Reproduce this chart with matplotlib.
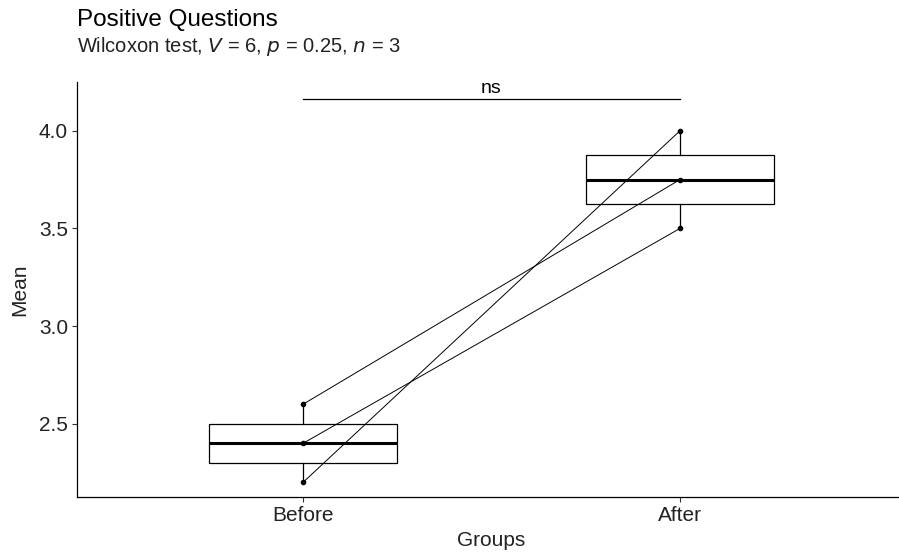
import matplotlib
matplotlib.use("Agg")
import matplotlib.pyplot as plt

plt.rcParams['font.family'] = ['Liberation Sans', 'DejaVu Sans']

# --- Data ---
groups = ["Before", "After"]
before = [2.6, 2.4, 2.2]
after = [3.75, 3.5, 4.0]   # paired with 'before' in the same order
yticks = [2.5, 3.0, 3.5, 4.0]
bracket_y = 4.165
bracket_label = "ns"

# --- Figure ---
fig = plt.figure(figsize=(8.99, 5.57), dpi=100)
W, H = 899, 557
ax = fig.add_axes([77 / W, 1 - 497 / H, (906 - 77) / W, (497 - 82) / H])

pos = [1, 2]
ax.boxplot([before, after], positions=pos, widths=0.5, whis=(0, 100),
           showcaps=False, showfliers=False, patch_artist=True,
           boxprops=dict(facecolor="white", edgecolor="black", linewidth=0.9),
           whiskerprops=dict(color="black", linewidth=0.9),
           medianprops=dict(color="black", linewidth=2.2),
           zorder=1)

# paired lines
for b, a in zip(before, after):
    ax.plot(pos, [b, a], color="black", linewidth=0.7, zorder=3)
ax.scatter([1] * len(before), before, s=9, color="black", zorder=4)
ax.scatter([2] * len(after), after, s=9, color="black", zorder=4)

# significance bracket
ax.plot(pos, [bracket_y, bracket_y], color="black", linewidth=0.9)
ax.text(1.5, bracket_y + 0.01, bracket_label, ha="center", va="bottom", fontsize=14)

ax.set_xlim(0.4, 2.6)
ax.set_ylim(2.125, 4.25)
ax.set_xticks(pos)
ax.set_xticklabels(groups, fontsize=15)
ax.set_yticks(yticks)
ax.set_yticklabels([f"{v:.1f}" for v in yticks], fontsize=15)
ax.tick_params(colors="#333333", labelcolor="#222222", length=3.5, width=0.8, pad=3)
for s in ["top", "right"]:
    ax.spines[s].set_visible(False)
ax.spines["left"].set_linewidth(0.9)
ax.spines["bottom"].set_linewidth(0.9)

ax.set_xlabel("Groups", fontsize=15, labelpad=4, color="#222222")
ax.set_ylabel("Mean", fontsize=15, labelpad=7, color="#222222")

fig.text(77 / W, 1 - 20 / H, "Positive Questions", fontsize=17.5, va="center", ha="left")
fig.text(77 / W, 1 - 47 / H,
         r"Wilcoxon test, $\it{V}$ = 6, $\it{p}$ = 0.25, $\it{n}$ = 3",
         fontsize=14.5, va="center", ha="left", color="#222222")

fig.savefig("out.png", dpi=100)
